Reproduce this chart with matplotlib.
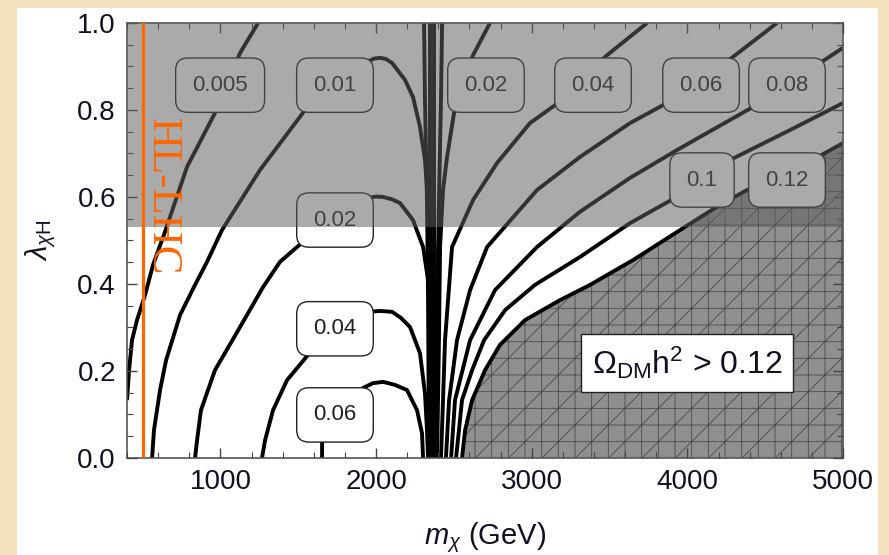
import matplotlib
matplotlib.use('Agg')
import matplotlib.pyplot as plt
from matplotlib.patches import Rectangle
from matplotlib.ticker import MultipleLocator

plt.rcParams['font.family'] = ['Liberation Sans', 'DejaVu Sans']
plt.rcParams['mathtext.fontset'] = 'custom'
plt.rcParams['mathtext.rm'] = 'Liberation Sans'
plt.rcParams['mathtext.it'] = 'Liberation Sans:italic'
plt.rcParams['hatch.linewidth'] = 0.6

# contours of Omega h^2, left of the resonance (m_X in GeV, lambda_XH)
c0005_m = [400, 413, 432, 464, 516, 567, 644, 785, 965, 1126, 1242]
c0005_l = [0.133, 0.202, 0.271, 0.317, 0.375, 0.444, 0.520, 0.669, 0.793, 0.931, 1.0]

c001_m = [561, 573, 612, 651, 741, 837, 914, 1010, 1254, 1544, 1736, 1942, 1985, 2025, 2065, 2103, 2186, 2237, 2282, 2314, 2347, 2359, 2366, 2366]
c001_l = [0, 0.064, 0.156, 0.225, 0.329, 0.398, 0.451, 0.524, 0.662, 0.8, 0.857, 0.910, 0.918, 0.920, 0.917, 0.908, 0.869, 0.830, 0.761, 0.685, 0.524, 0.363, 0.179, 0]

c002_m = [837, 850, 875, 965, 1126, 1274, 1383, 1531, 1736, 1955, 2000, 2045, 2100, 2154, 2237, 2302, 2334, 2353, 2366, 2372]
c002_l = [0, 0.041, 0.110, 0.202, 0.301, 0.393, 0.451, 0.497, 0.547, 0.598, 0.601, 0.600, 0.595, 0.586, 0.547, 0.485, 0.409, 0.294, 0.133, 0]

c004_m = [1267, 1287, 1338, 1428, 1563, 1736, 1955, 2025, 2103, 2160, 2218, 2282, 2314, 2327, 2334]
c004_l = [0, 0.041, 0.110, 0.179, 0.237, 0.294, 0.336, 0.338, 0.336, 0.322, 0.301, 0.241, 0.149, 0.064, 0]

c006_m = [1653, 1653, 1736, 1916, 1980, 2045, 2122, 2199, 2263, 2295, 2302]
c006_l = [0, 0.041, 0.099, 0.161, 0.172, 0.175, 0.168, 0.156, 0.110, 0.057, 0]

# contours right of the resonance
r002_m = [2392, 2398, 2404, 2411, 2430, 2456, 2507, 2559, 2623, 2732]
r002_l = [0, 0.133, 0.271, 0.485, 0.616, 0.692, 0.807, 0.869, 0.926, 1.0]

r004_m = [2417, 2430, 2443, 2488, 2623, 2777, 2989, 3169, 3342, 3484, 3741]
r004_l = [0, 0.133, 0.271, 0.485, 0.593, 0.678, 0.770, 0.816, 0.880, 0.926, 1.0]

r006_m = [2449, 2469, 2520, 2604, 2713, 3034, 3310, 3632, 3869, 4081, 4293, 4576]
r006_l = [0, 0.133, 0.271, 0.386, 0.485, 0.616, 0.692, 0.770, 0.816, 0.869, 0.922, 1.0]

r008_m = [2482, 2507, 2604, 2764, 3034, 3310, 3632, 3934, 4081, 4422, 4660, 4852, 5000]
r008_l = [0, 0.133, 0.271, 0.386, 0.485, 0.566, 0.644, 0.708, 0.738, 0.807, 0.862, 0.908, 0.943]

r01_m = [2514, 2552, 2617, 2694, 2829, 3021, 3310, 3632, 3921, 4274, 4660, 5000]
r01_l = [0, 0.133, 0.202, 0.271, 0.340, 0.398, 0.462, 0.540, 0.598, 0.685, 0.754, 0.816]

# 0.12 contour = edge of the excluded region
r012_m = [2552, 2572, 2617, 2700, 2796, 2957, 3182, 3375, 3651, 3953, 4210, 4383, 4595, 4839, 5000]
r012_l = [0, 0.064, 0.133, 0.202, 0.260, 0.317, 0.363, 0.398, 0.455, 0.524, 0.582, 0.616, 0.651, 0.692, 0.724]

# narrow lines inside the resonance
res1_m = [2308, 2314, 2327, 2334, 2340]
res1_l = [1.0, 0.823, 0.593, 0.363, 0]
res2_m = [2347, 2347]
res2_l = [1.0, 0]
res3_m = [2372, 2372]
res3_l = [1.0, 0]
res4_m = [2424, 2417, 2404, 2392, 2385]
res4_l = [1.0, 0.823, 0.593, 0.363, 0]

# contour labels
lab_txt = ['0.005', '0.01', '0.02', '0.04', '0.06', '0.02', '0.04', '0.06', '0.08', '0.1', '0.12']
lab_m = [998, 1736, 1736, 1736, 1736, 2706, 3394, 4088, 4640, 4094, 4640]
lab_l = [0.857, 0.857, 0.547, 0.297, 0.099, 0.857, 0.857, 0.857, 0.857, 0.639, 0.639]

hl_lhc_m = 500      # HL-LHC reach
shade_from = 0.53   # shaded lambda region

fig = plt.figure(figsize=(8.89, 5.55), dpi=100, facecolor='#f3e1bd')
fig.add_artist(Rectangle((0.019, 0), 0.969, 0.986, transform=fig.transFigure,
                         facecolor='white', edgecolor='none', zorder=0))
ax = fig.add_axes([0.1429, 0.1748, 0.8054, 0.7838])

lines = [(c0005_m, c0005_l), (c001_m, c001_l), (c002_m, c002_l), (c004_m, c004_l),
         (c006_m, c006_l), (r002_m, r002_l), (r004_m, r004_l), (r006_m, r006_l),
         (r008_m, r008_l), (r01_m, r01_l), (r012_m, r012_l),
         (res1_m, res1_l), (res2_m, res2_l), (res3_m, res3_l), (res4_m, res4_l)]
for xs, ys in lines:
    ax.plot(xs, ys, color='black', lw=2.8, solid_capstyle='butt', solid_joinstyle='round', zorder=2)

# excluded region
ax.fill_between(r012_m, 0, r012_l, facecolor='#8f8f8f', edgecolor='#4a4a4a',
                hatch='+/', linewidth=0, zorder=1.5)

for t, xm, yl in zip(lab_txt, lab_m, lab_l):
    ax.text(xm, yl, t, fontsize=16, color='#1f1f2a', ha='center', va='center', zorder=3,
            bbox=dict(boxstyle='round,pad=0.75,rounding_size=0.55', facecolor='white',
                      edgecolor='#222222', lw=1.0))

ax.axhspan(shade_from, 1.0, color=(0.375, 0.375, 0.375), alpha=0.53, lw=0, zorder=4)

ax.axvline(hl_lhc_m, color='#ff6600', lw=2.3, zorder=5)
ax.text(625, 0.60, 'HL-LHC', rotation=-90, color='#ff6600', fontsize=31,
        family=['Liberation Serif', 'DejaVu Serif'], ha='center', va='center', zorder=5)

ax.text(3998, 0.218, r'$\Omega_{\rm DM}\mathrm{h}^2$ > 0.12', fontsize=23, color='#111122',
        ha='center', va='center', zorder=6,
        bbox=dict(boxstyle='square,pad=0.33', facecolor='white', edgecolor='#222222', lw=1.0))

ax.set_xlim(400, 5000)
ax.set_ylim(0, 1)
ax.xaxis.set_major_locator(MultipleLocator(1000))
ax.xaxis.set_minor_locator(MultipleLocator(200))
ax.yaxis.set_major_locator(MultipleLocator(0.2))
ax.yaxis.set_minor_locator(MultipleLocator(0.05))
ax.yaxis.set_major_formatter(plt.FormatStrFormatter('%.1f'))
ax.tick_params(which='both', direction='in', top=True, right=True, color='#444444',
               labelsize=20, labelcolor='#111122')
ax.tick_params(which='major', length=7, width=1.0, pad=8)
ax.tick_params(which='minor', length=4, width=0.8)
for s in ax.spines.values():
    s.set_color('#555555')
    s.set_linewidth(1.2)
ax.set_axisbelow(False)

ax.set_xlabel(r'$m_\chi$ (GeV)', fontsize=21, color='#111122', labelpad=18)
ax.set_ylabel(r'$\lambda_{\chi\mathrm{H}}$', fontsize=21, color='#111122', labelpad=14)

fig.savefig('out.png', dpi=100, facecolor=fig.get_facecolor())
